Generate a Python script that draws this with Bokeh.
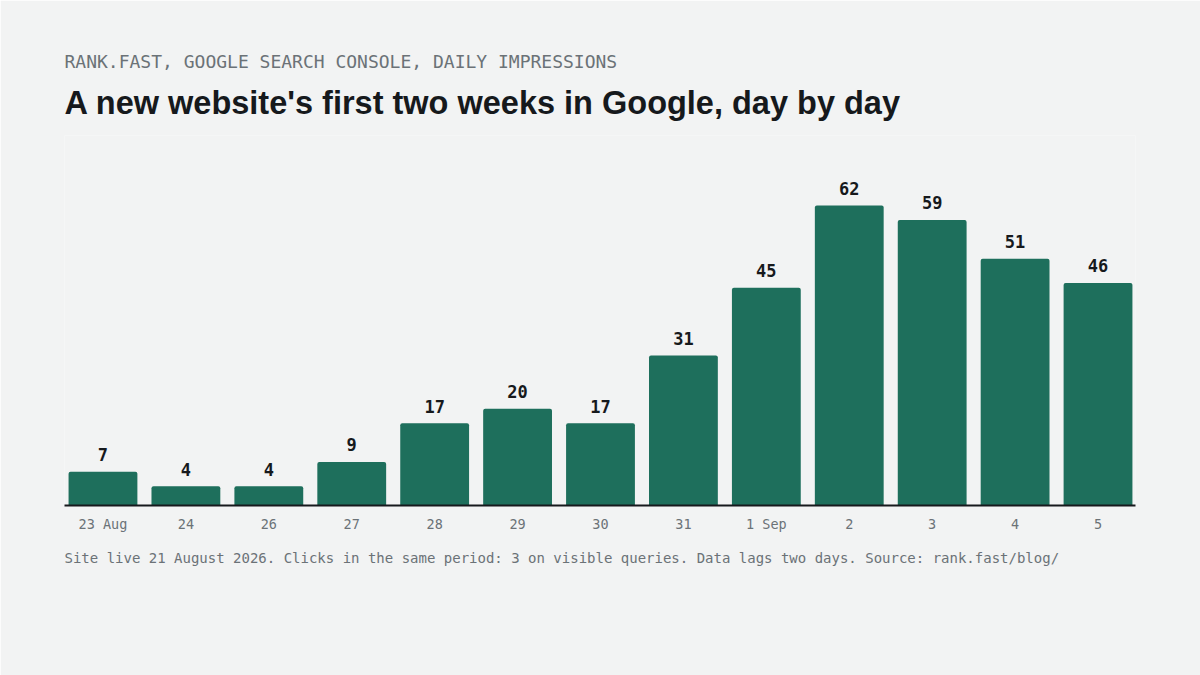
import numpy as np
from bokeh.plotting import figure
from bokeh.models import Range1d, FixedTicker, Title, ColumnDataSource
from bokeh.core.properties import value
from bokeh.embed import file_html
from bokeh.resources import INLINE

# ---- data ----
day_labels = ["23 Aug", "24", "26", "27", "28", "29", "30", "31", "1 Sep", "2", "3", "4", "5"]
impressions = [7, 4, 4, 9, 17, 20, 17, 31, 45, 62, 59, 51, 46]

kicker = "RANK.FAST, GOOGLE SEARCH CONSOLE, DAILY IMPRESSIONS"
headline = "A new website's first two weeks in Google, day by day"
footnote = ("Site live 21 August 2026. Clicks in the same period: 3 on visible queries. "
            "Data lags two days. Source: rank.fast/blog/")

BG = "#f2f3f3"
BAR = "#1e6f5c"
INK = "#16191c"
GREY = "#6b7277"
MONO = "DejaVu Sans Mono"

W, H = 1200, 675
top, bottom = 135, 170
frame_h = H - top - bottom
px_per_unit = 4.839

xs = np.arange(len(impressions))
src = ColumnDataSource(dict(x=xs, y=impressions, lab=[str(v) for v in impressions]))

p = figure(width=W, height=H, output_backend="svg", toolbar_location=None,
           x_range=Range1d(-0.464, len(impressions) - 1 + 0.452),
           y_range=Range1d(0, frame_h / px_per_unit),
           min_border_left=64, min_border_right=65,
           min_border_top=top, min_border_bottom=bottom,
           background_fill_color=BG, border_fill_color=BG)
p.outline_line_color = None
p.grid.visible = False
p.yaxis.visible = False

p.vbar(x="x", top="y", width=0.83, bottom=0, source=src,
       fill_color=BAR, line_color=None, border_radius=(2, 2, 0, 0))

p.text(x="x", y="y", text="lab", source=src, y_offset=-17,
       text_align="center", text_baseline="alphabetic",
       text_font=value(MONO), text_font_style="bold",
       text_font_size="17px", text_color=INK)

ax = p.xaxis[0]
ax.ticker = FixedTicker(ticks=list(range(len(day_labels))))
ax.major_label_overrides = {i: lab for i, lab in enumerate(day_labels)}
ax.major_tick_line_color = None
ax.minor_tick_line_color = None
ax.axis_line_color = INK
ax.axis_line_width = 2
ax.major_label_text_font = MONO
ax.major_label_text_font_size = "13.5px"
ax.major_label_text_color = GREY
ax.major_label_standoff = 4

# header: first added sits closest to the frame
p.add_layout(Title(text=headline, align="left", standoff=29,
                   text_font="Liberation Sans", text_font_style="bold",
                   text_font_size="32.5px", text_color=INK), "above")
p.add_layout(Title(text=kicker, align="left", standoff=-6,
                   text_font=MONO, text_font_style="normal",
                   text_font_size="18px", text_color=GREY), "above")
# footer below the axis
p.add_layout(Title(text=footnote, align="left", standoff=26,
                   text_font=MONO, text_font_style="normal",
                   text_font_size="14px", text_color=GREY), "below")

open("out.html", "w").write(file_html(p, INLINE))
